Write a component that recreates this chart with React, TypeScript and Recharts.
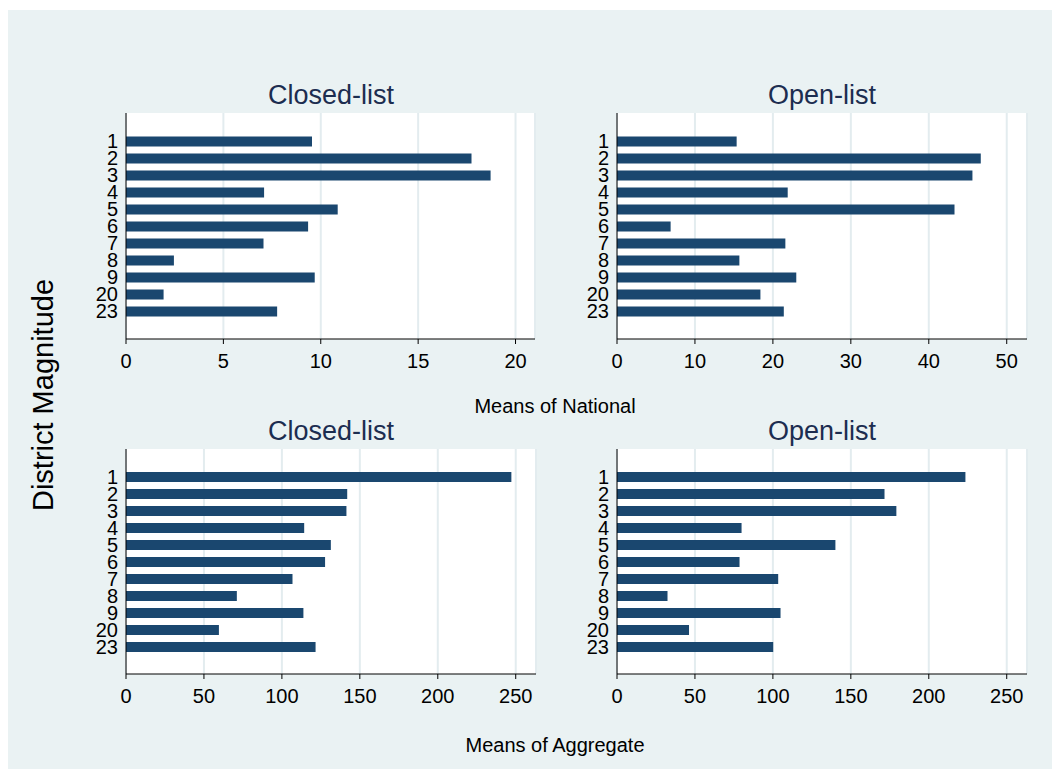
import { BarChart, Bar, XAxis, YAxis, CartesianGrid } from 'recharts';

// district magnitudes (y categories)
const magnitudes = ['1', '2', '3', '4', '5', '6', '7', '8', '9', '20', '23'];

// means of National
const nationalClosed = [9.55, 17.74, 18.72, 7.09, 10.87, 9.35, 7.06, 2.46, 9.69, 1.93, 7.76];
const nationalOpen = [15.35, 46.67, 45.6, 21.9, 43.3, 6.88, 21.6, 15.7, 23.0, 18.4, 21.4];

// means of Aggregate
const aggregateClosed = [247.2, 141.9, 141.4, 114.3, 131.4, 127.7, 106.8, 71.1, 113.8, 59.6, 121.6];
const aggregateOpen = [223.5, 171.6, 179.2, 79.9, 140.1, 78.6, 103.4, 32.4, 104.9, 46.2, 100.2];

const nationalClosedTicks = [0, 5, 10, 15, 20];
const nationalOpenTicks = [0, 10, 20, 30, 40, 50];
const aggregateTicks = [0, 50, 100, 150, 200, 250];

const BG = '#EAF2F3';
const NAVY = '#1A476F';
const FONT = '"Liberation Sans", Arial, sans-serif';

const toRows = (values: number[]) => magnitudes.map((dm, i) => ({ dm, value: values[i] }));

type PanelProps = {
  values: number[];
  ticks: number[];
  max: number;
  // plot rectangle, page coords
  x0: number;
  y0: number;
  x1: number;
  y1: number;
};

const Y_W = 50;
const X_H = 50;
const PAD = 5;

const Panel: React.FC<PanelProps> = ({ values, ticks, max, x0, y0, x1, y1 }) => {
  const plotH = y1 - y0;
  const band = 17;
  const pad = (plotH - band * magnitudes.length) / 2;
  return (
    <div style={{ position: 'absolute', left: x0 - 8 - Y_W, top: y0 - 10 - PAD }}>
      <BarChart
        width={x1 - x0 + Y_W + PAD}
        height={plotH + PAD + X_H}
        data={toRows(values)}
        layout='vertical'
        margin={{ top: PAD, right: PAD, left: 0, bottom: 0 }}
        barSize={10}
      >
        <CartesianGrid horizontal={false} stroke='#E3ECEF' strokeWidth={2} fill='#fff' fillOpacity={1} />
        <XAxis
          type='number'
          domain={[0, max]}
          ticks={ticks}
          height={X_H}
          interval={0}
          axisLine={{ stroke: '#000' }}
          tickLine={{ stroke: '#000' }}
          tickSize={5}
          tickMargin={10}
          tick={{ fill: '#000', fontSize: 20, fontFamily: FONT }}
        />
        <YAxis
          type='category'
          dataKey='dm'
          width={Y_W}
          interval={0}
          padding={{ top: pad, bottom: pad }}
          axisLine={{ stroke: '#000' }}
          tickLine={false}
          tickSize={0}
          tickMargin={8}
          tick={{ fill: '#000', fontSize: 20, fontFamily: FONT }}
        />
        <Bar dataKey='value' fill={NAVY} isAnimationActive={false} />
      </BarChart>
    </div>
  );
};

const App: React.FC = () => {
  return (
    <div
      style={{
        position: 'absolute',
        left: 8,
        top: 10,
        width: 1044,
        height: 759,
        background: BG,
        fontFamily: FONT,
      }}
    >
      <svg width={1044} height={759} style={{ position: 'absolute', left: 0, top: 0 }}>
        <g fontFamily={FONT}>
          <text x={323} y={94} fontSize={27} fill='#1C2D50' textAnchor='middle'>Closed-list</text>
          <text x={814} y={94} fontSize={27} fill='#1C2D50' textAnchor='middle'>Open-list</text>
          <text x={323} y={430} fontSize={27} fill='#1C2D50' textAnchor='middle'>Closed-list</text>
          <text x={814} y={430} fontSize={27} fill='#1C2D50' textAnchor='middle'>Open-list</text>
          <text x={547} y={403} fontSize={20} fill='#000' textAnchor='middle'>Means of National</text>
          <text x={547} y={742} fontSize={20} fill='#000' textAnchor='middle'>Means of Aggregate</text>
          <text x={45} y={385} fontSize={29} fill='#000' textAnchor='middle' transform='rotate(-90 45 385)'>
            District Magnitude
          </text>
        </g>
      </svg>
      <Panel values={nationalClosed} ticks={nationalClosedTicks} max={21} x0={126} y0={113} x1={535} y1={339} />
      <Panel values={nationalOpen} ticks={nationalOpenTicks} max={52.6} x0={617} y0={113} x1={1027} y1={339} />
      <Panel values={aggregateClosed} ticks={aggregateTicks} max={263} x0={126} y0={449} x1={536} y1={674} />
      <Panel values={aggregateOpen} ticks={aggregateTicks} max={263} x0={617} y0={449} x1={1027} y1={674} />
    </div>
  );
};

export default App;
